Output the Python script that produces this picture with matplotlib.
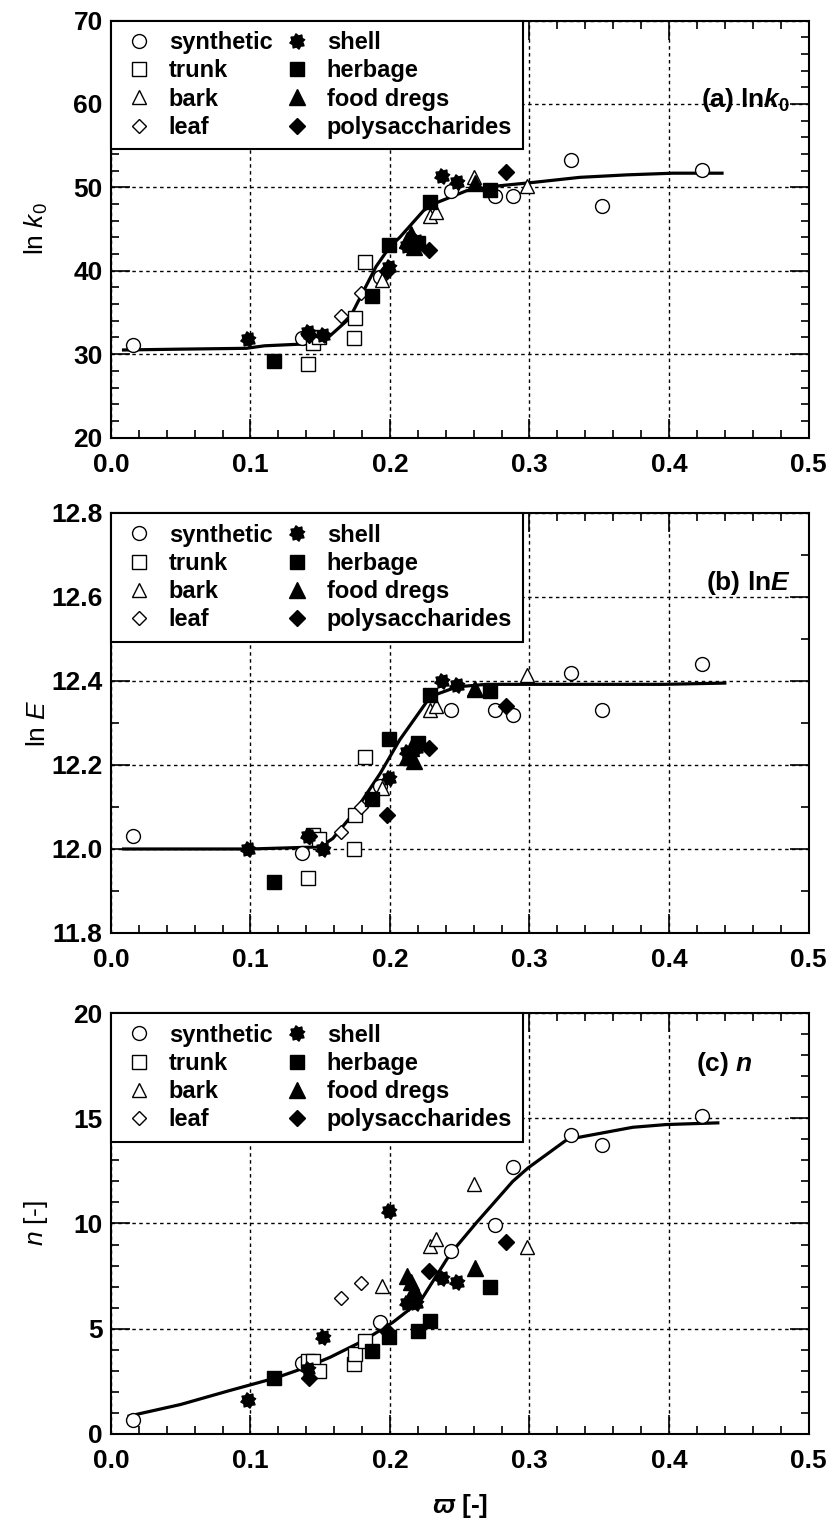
import numpy as np
import matplotlib
matplotlib.use("Agg")
import matplotlib.pyplot as plt
from matplotlib.ticker import MultipleLocator, FormatStrFormatter

plt.rcParams['font.family'] = ['Liberation Sans', 'DejaVu Sans']
plt.rcParams['mathtext.fontset'] = 'custom'
plt.rcParams['mathtext.rm'] = 'Liberation Sans'
plt.rcParams['mathtext.it'] = 'Liberation Sans:italic'
plt.rcParams['mathtext.bf'] = 'Liberation Sans:bold'
plt.rcParams['mathtext.bfit'] = 'Liberation Sans:bold:italic'

# omega [-] of each sample, grouped by material
omega_synthetic = [0.016, 0.137, 0.193, 0.244, 0.275, 0.288, 0.330, 0.352, 0.424]
omega_trunk = [0.141, 0.145, 0.149, 0.174, 0.175, 0.182]
omega_bark = [0.194, 0.229, 0.233, 0.260, 0.298]
omega_leaf = [0.165, 0.179]
omega_shell = [0.098, 0.141, 0.152, 0.199, 0.212, 0.219, 0.237, 0.248]
omega_herbage = [0.117, 0.187, 0.199, 0.220, 0.229, 0.272]
omega_food = [0.212, 0.215, 0.217, 0.261]
omega_poly = [0.142, 0.198, 0.228, 0.283]

# (a) ln k0
lnk0_synthetic = [31.1, 31.9, 39.2, 49.6, 49.0, 49.0, 53.3, 47.8, 52.1]
lnk0_trunk = [28.8, 31.3, 32.1, 31.9, 34.3, 41.0]
lnk0_bark = [38.9, 46.6, 47.0, 51.2, 50.2]
lnk0_leaf = [34.6, 37.3]
lnk0_shell = [31.8, 32.7, 32.3, 40.5, 43.0, 43.6, 51.4, 50.6]
lnk0_herbage = [29.2, 37.0, 43.1, 43.3, 48.2, 49.7]
lnk0_food = [43.7, 44.4, 42.8, 50.5]
lnk0_poly = [32.3, 40.0, 42.5, 51.8]
fit_a_x = [0.009, 0.05, 0.097, 0.11, 0.136, 0.151, 0.171, 0.19, 0.2, 0.207,
           0.224, 0.231, 0.255, 0.279, 0.303, 0.336, 0.37, 0.403, 0.438]
fit_a_y = [30.5, 30.6, 30.7, 31.0, 31.2, 31.3, 34.3, 40.5, 42.9, 44.0,
           47.2, 48.0, 49.6, 50.2, 50.6, 51.2, 51.5, 51.7, 51.7]

# (b) ln E
lnE_synthetic = [12.03, 11.99, 12.15, 12.33, 12.33, 12.32, 12.42, 12.33, 12.44]
lnE_trunk = [11.93, 12.033, 12.024, 12.0, 12.08, 12.22]
lnE_bark = [12.145, 12.33, 12.34, 12.38, 12.414]
lnE_leaf = [12.04, 12.10]
lnE_shell = [12.0, 12.03, 12.0, 12.17, 12.23, 12.24, 12.40, 12.39]
lnE_herbage = [11.922, 12.12, 12.262, 12.252, 12.367, 12.375]
lnE_food = [12.22, 12.24, 12.21, 12.38]
lnE_poly = [12.03, 12.08, 12.24, 12.34]
fit_b_x = [0.009, 0.10, 0.15, 0.159, 0.174, 0.193, 0.207, 0.229, 0.248,
           0.269, 0.30, 0.396, 0.44]
fit_b_y = [12.0, 12.0, 12.005, 12.025, 12.085, 12.18, 12.26, 12.363, 12.386,
           12.392, 12.392, 12.392, 12.395]

# (c) n
n_synthetic = [0.65, 3.35, 5.3, 8.7, 9.95, 12.7, 14.2, 13.75, 15.1]
n_trunk = [3.48, 3.45, 3.0, 3.3, 3.8, 4.43]
n_bark = [7.04, 8.93, 9.25, 11.88, 8.9]
n_leaf = [6.48, 7.19]
n_shell = [1.6, 3.1, 4.6, 10.6, 6.2, 6.2, 7.4, 7.2]
n_herbage = [2.66, 3.96, 4.59, 4.90, 5.35, 6.96]
n_food = [7.5, 7.2, 6.9, 7.9]
n_poly = [2.66, 4.9, 7.75, 9.12]
fit_c_x = [0.013, 0.05, 0.085, 0.118, 0.140, 0.157, 0.181, 0.202, 0.222,
           0.243, 0.262, 0.288, 0.299, 0.327, 0.374, 0.398, 0.435]
fit_c_y = [0.85, 1.4, 2.06, 2.66, 3.17, 3.64, 4.43, 5.30, 6.33,
           8.54, 10.04, 12.0, 12.64, 13.99, 14.57, 14.70, 14.78]

# spiky "shell" marker
ang = np.linspace(0, 2 * np.pi, 17)[:-1] + np.pi / 16
rad = np.where(np.arange(16) % 2 == 0, 1.0, 0.72)
shell_marker = list(zip(rad * np.cos(ang), rad * np.sin(ang)))

labels = ['synthetic', 'trunk', 'bark', 'leaf',
          'shell', 'herbage', 'food dregs', 'polysaccharides']
styles = [
    dict(marker='o', mfc='white', ms=10),
    dict(marker='s', mfc='white', ms=10),
    dict(marker='^', mfc='white', ms=10),
    dict(marker='D', mfc='white', ms=7),
    dict(marker=shell_marker, mfc='black', ms=11),
    dict(marker='s', mfc='black', ms=10.5),
    dict(marker='^', mfc='black', ms=11),
    dict(marker='D', mfc='black', ms=8),
]
omegas = [omega_synthetic, omega_trunk, omega_bark, omega_leaf,
          omega_shell, omega_herbage, omega_food, omega_poly]

panels = [
    dict(ys=[lnk0_synthetic, lnk0_trunk, lnk0_bark, lnk0_leaf,
             lnk0_shell, lnk0_herbage, lnk0_food, lnk0_poly],
         fx=fit_a_x, fy=fit_a_y, ylim=(20, 70), major=10, minor=2,
         ylabel=r'ln $k_0$', tag=r'$\mathbf{(a)\ ln}\mathbfit{k}_{\mathbf{0}}$',
         tagpos=(0.974, 0.81), rect=[0.1337, 0.7129, 0.8404, 0.2736]),
    dict(ys=[lnE_synthetic, lnE_trunk, lnE_bark, lnE_leaf,
             lnE_shell, lnE_herbage, lnE_food, lnE_poly],
         fx=fit_b_x, fy=fit_b_y, ylim=(11.8, 12.8), major=0.2, minor=0.1,
         ylabel=r'ln $E$', tag=r'$\mathbf{(b)\ ln}\mathbfit{E}$',
         tagpos=(0.974, 0.833), rect=[0.1337, 0.3878, 0.8404, 0.2756]),
    dict(ys=[n_synthetic, n_trunk, n_bark, n_leaf,
             n_shell, n_herbage, n_food, n_poly],
         fx=fit_c_x, fy=fit_c_y, ylim=(0, 20), major=5, minor=1,
         ylabel=r'$n$ [-]', tag=r'$\mathbf{(c)\ }\mathbfit{n}$',
         tagpos=(0.92, 0.88), rect=[0.1337, 0.0591, 0.8404, 0.2762]),
]

fig = plt.figure(figsize=(8.3, 15.24), dpi=100)

for i, p in enumerate(panels):
    ax = fig.add_axes(p['rect'])
    ax.set_axisbelow(True)
    ax.plot(p['fx'], p['fy'], color='black', lw=2.3, zorder=3)
    handles = []
    for om, y, lab, st in zip(omegas, p['ys'], labels, styles):
        h, = ax.plot(om, y, ls='none', marker=st['marker'], ms=st['ms'],
                     mfc=st['mfc'], mec='black', mew=1.0, label=lab, zorder=4)
        handles.append(h)

    ax.set_xlim(0, 0.5)
    ax.set_ylim(*p['ylim'])
    ax.xaxis.set_major_locator(MultipleLocator(0.1))
    ax.xaxis.set_minor_locator(MultipleLocator(0.02))
    ax.yaxis.set_major_locator(MultipleLocator(p['major']))
    ax.yaxis.set_minor_locator(MultipleLocator(p['minor']))
    ax.xaxis.set_major_formatter(FormatStrFormatter('%.1f'))
    if i == 1:
        ax.yaxis.set_major_formatter(FormatStrFormatter('%.1f'))
    ax.tick_params(which='both', direction='in', top=True, right=True, width=1.2)
    ax.tick_params(which='major', length=14, pad=6, labelsize=19)
    ax.tick_params(axis='x', which='major', pad=11)
    ax.tick_params(which='minor', length=6)
    for t in ax.get_xticklabels() + ax.get_yticklabels():
        t.set_fontweight('bold')
    for s in ax.spines.values():
        s.set_linewidth(1.5)
    ax.grid(True, which='major', color='black', lw=1.0, ls=(0, (2.5, 2.5)))

    ax.set_ylabel(p['ylabel'], fontsize=19)
    ax.yaxis.set_label_coords(-0.088, 0.5)
    ax.text(p['tagpos'][0], p['tagpos'][1], p['tag'], transform=ax.transAxes,
            ha='right', va='center', fontsize=19)

    leg = ax.legend(handles=handles, loc='upper left', ncol=2,
                    prop=dict(weight='bold', size=17), frameon=True,
                    fancybox=False, borderaxespad=0, handletextpad=0.5,
                    columnspacing=0.3, labelspacing=0.22, handlelength=1.5,
                    borderpad=0.45)
    leg.get_frame().set_edgecolor('black')
    leg.get_frame().set_linewidth(1.5)
    leg.get_frame().set_alpha(1)
    leg.set_zorder(10)

    if i == 2:
        ax.set_xlabel(r'$\mathbfit{\varpi}$ [-]', fontsize=19, fontweight='bold')
        ax.xaxis.set_label_coords(0.5, -0.137)

fig.savefig('out.png', dpi=100)
